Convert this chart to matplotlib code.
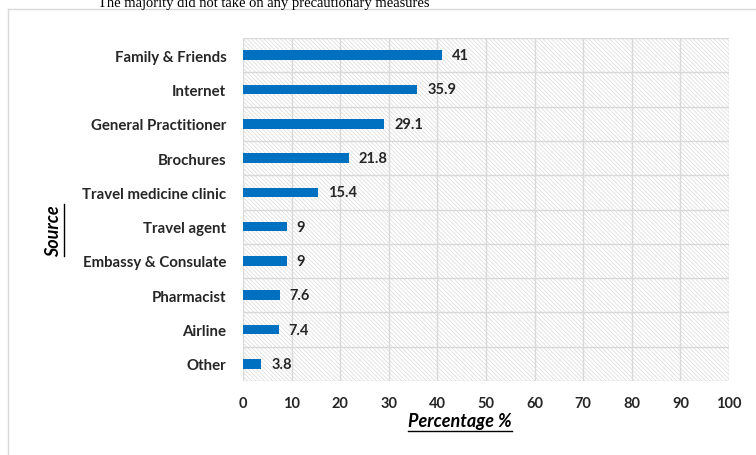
import matplotlib
matplotlib.use("Agg")
import matplotlib.pyplot as plt
from matplotlib.lines import Line2D

categories = ["Family & Friends", "Internet", "General Practitioner", "Brochures",
              "Travel medicine clinic", "Travel agent", "Embassy & Consulate",
              "Pharmacist", "Airline", "Other"]
values = [41, 35.9, 29.1, 21.8, 15.4, 9, 9, 7.6, 7.4, 3.8]
xticks = [0, 10, 20, 30, 40, 50, 60, 70, 80, 90, 100]

title = "The majority did not take on any precautionary measures"
xlabel = "Percentage %"
ylabel = "Source"

plt.rcParams['font.family'] = ['Lato', 'DejaVu Sans']
plt.rcParams['hatch.linewidth'] = 0.5
plt.rcParams['hatch.color'] = '#d9d9d9'

W, H = 756, 456
fig = plt.figure(figsize=(W / 100, H / 100), dpi=100)
ax = fig.add_axes([243 / W, 1 - 382 / H, (729 - 243) / W, (382 - 39) / H])

ax.patch.set_facecolor('white')
ax.patch.set_hatch('\\' * 8)
ax.patch.set_edgecolor('#d9d9d9')
ax.patch.set_linewidth(0)

n = len(categories)
ypos = list(range(n))
ax.barh(ypos, values, height=0.28, color='#0070c0', zorder=3)
for y, v in zip(ypos, values):
    ax.text(v + 2.0, y, f"{v:g}", va='center', ha='left', fontsize=10.5,
            fontweight='bold', color='#262626', zorder=4)

ax.set_xlim(0, 100)
ax.set_ylim(n - 0.5, -0.5)
ax.set_xticks(xticks)
ax.set_xticklabels([str(t) for t in xticks], fontsize=10.5, fontweight='bold', color='#262626')
ax.set_yticks(ypos)
ax.set_yticklabels(categories, fontsize=10.8, fontweight='bold', color='#262626')
ax.tick_params(axis='both', length=0)
ax.tick_params(axis='y', pad=12)
ax.tick_params(axis='x', pad=11)

# gridlines: vertical at ticks, horizontal between categories
for t in xticks:
    ax.axvline(t, color='#d9d9d9', lw=1.0, zorder=1)
for b in [i - 0.5 for i in range(n + 1)]:
    ax.axhline(b, color='#d9d9d9', lw=1.0, zorder=1)
for s in ax.spines.values():
    s.set_visible(False)

# outer chart frame
fig.add_artist(Line2D([8 / W, 1], [1 - 10 / H, 1 - 10 / H], color='#d9d9d9', lw=1.0))
fig.add_artist(Line2D([8 / W, 8 / W], [1 - 10 / H, 0], color='#d9d9d9', lw=1.0))

# title (cropped at top in reference)
fig.text(264 / W, 1 - 3 / H, title, family='Liberation Serif', fontsize=10.5,
         ha='center', va='center', color='black')

# axis labels, bold italic underlined
xl = fig.text(460 / W, 1 - 422 / H, xlabel, fontsize=13, fontweight='bold',
              fontstyle='italic', ha='center', va='center', color='black')
yl = fig.text(54 / W, 1 - 231 / H, ylabel, fontsize=13, fontweight='bold',
              fontstyle='italic', ha='center', va='center', rotation=90, color='black')

fig.canvas.draw()
r = fig.canvas.get_renderer()
bb = xl.get_window_extent(r)
yline = (bb.y0 - 1) / H
fig.add_artist(Line2D([bb.x0 / W, bb.x1 / W], [yline, yline], color='black', lw=1.0))
bb2 = yl.get_window_extent(r)
xline = (bb2.x1 + 1) / W
fig.add_artist(Line2D([xline, xline], [bb2.y0 / H, bb2.y1 / H], color='black', lw=1.0))

fig.savefig('out.png', dpi=100)
